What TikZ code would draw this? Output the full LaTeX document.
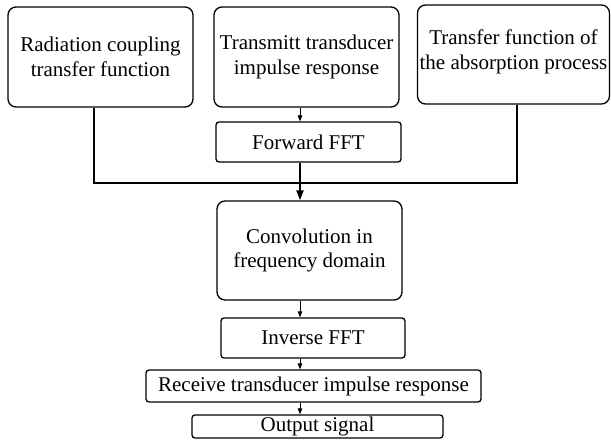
\documentclass[tikz,border=0pt]{standalone}
\usepackage{fontspec}
\setmainfont{Liberation Serif}
\usetikzlibrary{arrows.meta}
\begin{document}
\begin{tikzpicture}[x=1pt,y=1pt,
  every node/.style={font=\fontsize{21}{24.5}\selectfont},
  bigbox/.style={draw, line width=1.3pt, rounded corners=8pt, align=center, inner sep=0pt},
  smallbox/.style={draw, line width=1.3pt, rounded corners=3pt, align=center, inner sep=0pt},
  thinarrow/.style={line width=0.8pt, -{Triangle[length=6pt,width=4.5pt]}},
  thickarrow/.style={line width=2pt, -{Triangle[length=10pt,width=7pt]}},
  joinline/.style={line width=1.3pt}]
\useasboundingbox (0,0) rectangle (611,-441);
\node[bigbox, minimum width=185pt, minimum height=100pt] (b1) at (100.5,-57) {Radiation coupling\\transfer function};
\node[bigbox, minimum width=185pt, minimum height=100pt] (b2) at (306.5,-57) {Transmitt transducer\\impulse response};
\node[bigbox, minimum width=192pt, minimum height=99pt, text depth=10pt] (b3) at (513.5,-54.5) {Transfer function of\\the absorption process};
\node[smallbox, minimum width=185pt, minimum height=40pt] (fft) at (308.5,-142) {Forward FFT};
\node[bigbox, minimum width=185pt, minimum height=99pt] (conv) at (309.5,-250.5) {Convolution in\\frequency domain};
\node[smallbox, minimum width=184pt, minimum height=40pt] (inv) at (313,-338) {Inverse FFT};
\node[smallbox, minimum width=335pt, minimum height=32pt] (rec) at (313.5,-386) {Receive transducer impulse response};
\node[smallbox, minimum width=251pt, minimum height=23pt, text height=15pt, text depth=5pt] (out) at (317.5,-426.5) {Output signal};
\coordinate (mx) at (300,0);
\coordinate (lx) at (94,0);
\coordinate (rx) at (517,0);
\coordinate (j) at (300,-183);
\draw[thinarrow] (b2.south -| mx) -- (fft.north -| mx);
\draw[joinline] (b1.south -| lx) |- (j);
\draw[joinline] (b3.south -| rx) |- (j);
\draw[thickarrow] (fft.south -| mx) -- (conv.north -| mx);
\draw[thinarrow] (conv.south -| mx) -- (inv.north -| mx);
\draw[thinarrow] (inv.south -| mx) -- (rec.north -| mx);
\draw[thinarrow] (rec.south -| mx) -- (out.north -| mx);
\end{tikzpicture}
\end{document}
